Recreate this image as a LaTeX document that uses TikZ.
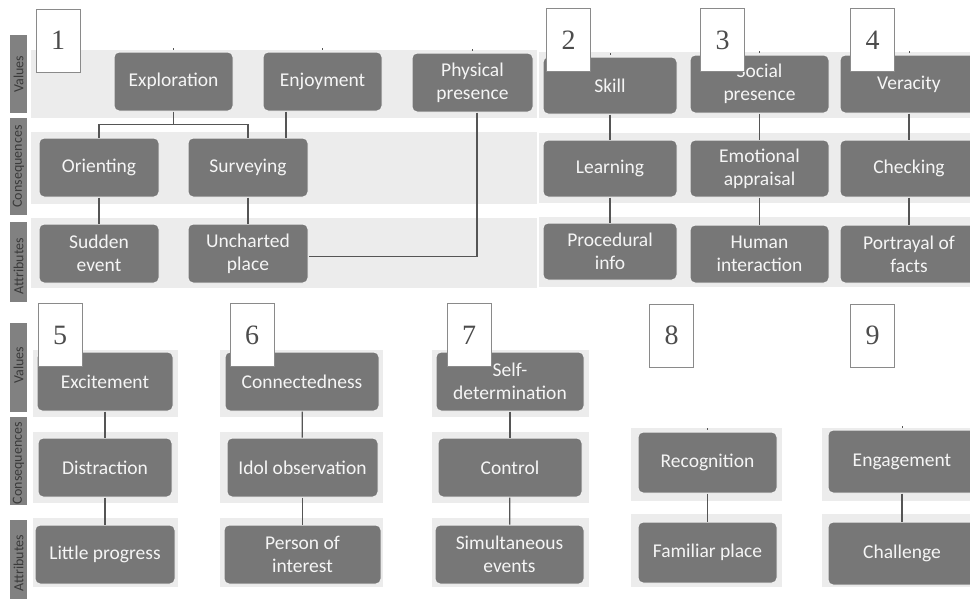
\documentclass[tikz,border=0pt]{standalone}
\usepackage{fontspec}
\setmainfont{Carlito}
\newfontfamily\numfont{Liberation Serif}
\definecolor{nodegray}{HTML}{777777}
\definecolor{bandgray}{HTML}{ECECEC}
\definecolor{bargray}{HTML}{818181}
\definecolor{bartext}{HTML}{3A3A3A}
\definecolor{linegray}{HTML}{555555}
\definecolor{numgray}{HTML}{8A8A8A}
\tikzset{
  nd/.style={rectangle, rounded corners=5pt, fill=nodegray, draw=white!88!gray, line width=1pt,
    text=white!96!black, font=\fontsize{19.5}{23}\selectfont, align=center, inner sep=0pt},
  numbox/.style={rectangle, fill=white, draw=numgray, line width=0.9pt, inner sep=0pt,
    minimum width=44pt, minimum height=63pt, font=\numfont\fontsize{28}{30}\selectfont, text=black!70},
  band/.style={fill=bandgray, draw=none},
  sidebar/.style={fill=bargray, draw=none},
  sidelabel/.style={rotate=90, text=bartext, font=\fontsize{14}{16}\selectfont, inner sep=0pt},
  link/.style={draw=linegray, line width=1.3pt},
  tick/.style={draw=linegray, line width=0.8pt}
}
\begin{document}
\begin{tikzpicture}[x=1pt,y=-1pt]
\useasboundingbox (0,0) rectangle (970,598);
\clip (0,0) rectangle (970,598);
\fill[white] (0,0) rectangle (970,598);
% ---------- bands (top) ----------
\fill[band] (31,50) rectangle (537,118);
\fill[band] (31,132) rectangle (537,204);
\fill[band] (31,218) rectangle (537,288);
\fill[band] (539,52) rectangle (970,118);
\fill[band] (539,133) rectangle (970,203);
\fill[band] (539,217) rectangle (970,287);
% ---------- bands (bottom) ----------
\foreach \xa/\xb in {33/178, 220/383, 432/589} {
  \fill[band] (\xa,350) rectangle (\xb,417);
  \fill[band] (\xa,432) rectangle (\xb,503);
  \fill[band] (\xa,518) rectangle (\xb,587);
}
\foreach \xa/\xb in {631/782, 822/970} {
  \fill[band] (\xa,428) rectangle (\xb,501);
  \fill[band] (\xa,514) rectangle (\xb,587);
}
% ---------- side bars ----------
\fill[sidebar] (10,35) rectangle (27,113);
\fill[sidebar] (10,118) rectangle (27,215);
\fill[sidebar] (10,222) rectangle (27,302);
\fill[sidebar] (10,323) rectangle (27,412);
\fill[sidebar] (10,417) rectangle (27,505);
\fill[sidebar] (10,520) rectangle (27,600);
\node[sidelabel] (lv1) at (18.5,74) {Values};
\node[sidelabel] (lc1) at (18.5,166.5) {Consequences};
\node[sidelabel] (la1) at (18.5,266) {Attributes};
\node[sidelabel] (lv2) at (18.5,365) {Values};
\node[sidelabel] (lc2) at (18.5,463) {Consequences};
\node[sidelabel] (la2) at (18.5,563) {Attributes};
% ---------- nodes (top) ----------
\node[nd, minimum width=119pt, minimum height=59pt] (expl) at (173.5,81.5) {Exploration};
\node[nd, minimum width=119pt, minimum height=59pt] (enjoy) at (322.5,81.5) {Enjoyment};
\node[nd, minimum width=121pt, minimum height=59pt] (phys) at (472.5,82.5) {Physical\\presence};
\node[nd, minimum width=120pt, minimum height=59pt] (orient) at (99,167.5) {Orienting};
\node[nd, minimum width=120pt, minimum height=59pt] (surv) at (248,167.5) {Surveying};
\node[nd, minimum width=120pt, minimum height=59pt] (sudden) at (99,253.5) {Sudden\\event};
\node[nd, minimum width=120pt, minimum height=59pt] (unch) at (248,253.5) {Uncharted\\place};
\node[nd, minimum width=134pt, minimum height=57pt] (skill) at (610,85.5) {Skill};
\node[nd, minimum width=139pt, minimum height=58pt] (social) at (759.5,84) {Social\\presence};
\node[nd, minimum width=138pt, minimum height=58pt] (verac) at (909,84) {Veracity};
\node[nd, minimum width=134pt, minimum height=57pt] (learn) at (610,168.5) {Learning};
\node[nd, minimum width=139pt, minimum height=57pt] (emot) at (759.5,168.5) {Emotional\\appraisal};
\node[nd, minimum width=138pt, minimum height=57pt] (check) at (909,168.5) {Checking};
\node[nd, minimum width=134pt, minimum height=57pt] (proc) at (610,251.5) {Procedural\\info};
\node[nd, minimum width=139pt, minimum height=58pt] (human) at (759.5,254) {Human\\interaction};
\node[nd, minimum width=138pt, minimum height=58pt] (portr) at (909,254) {Portrayal of\\facts};
% ---------- nodes (bottom) ----------
\node[nd, minimum width=136pt, minimum height=59pt] (excit) at (105,381.5) {Excitement};
\node[nd, minimum width=154pt, minimum height=59pt] (connd) at (302,381.5) {Connectedness};
\node[nd, minimum width=148pt, minimum height=59pt] (selfd) at (510,381.5) {Self-\\determination};
\node[nd, minimum width=134pt, minimum height=59pt] (distr) at (105,467.5) {Distraction};
\node[nd, minimum width=151pt, minimum height=59pt] (idol) at (302.5,467.5) {Idol observation};
\node[nd, minimum width=144pt, minimum height=59pt] (control) at (510,467.5) {Control};
\node[nd, minimum width=140pt, minimum height=59pt] (little) at (105,554.5) {Little progress};
\node[nd, minimum width=157pt, minimum height=59pt] (person) at (302.5,554.5) {Person of\\interest};
\node[nd, minimum width=149pt, minimum height=59pt] (simul) at (509.5,554.5) {Simultaneous\\events};
\node[nd, minimum width=139pt, minimum height=61pt] (recog) at (707.5,462.5) {Recognition};
\node[nd, minimum width=139pt, minimum height=61pt] (famil) at (707.5,552.5) {Familiar place};
\node[nd, minimum width=148pt, minimum height=63pt] (engag) at (902,461.5) {Engagement};
\node[nd, minimum width=148pt, minimum height=63pt] (chall) at (902,553.5) {Challenge};
% ---------- connectors ----------
\coordinate (ej) at ([yshift=-13pt]expl.south);
\draw[link] (expl.south) -- (ej);
\draw[link] (ej) -| (orient.north);
\draw[link] (ej) -| (surv.north);
\draw[link] ([xshift=-36.5pt]enjoy.south) -- ([xshift=-36.5pt]enjoy.south |- surv.north);
\coordinate (pc) at ([xshift=4.5pt]phys.south |- 0,256.5);
\draw[link] ([xshift=4.5pt]phys.south) -- (pc) -- (pc -| unch.east);
\draw[link] (orient) -- (sudden);
\draw[link] (surv) -- (unch);
\draw[link] (skill) -- (learn);
\draw[link] (learn) -- (proc);
\draw[link] (social) -- (emot);
\draw[link] (emot) -- (human);
\draw[link] (verac) -- (check);
\draw[link] (check) -- (portr);
\draw[link] (excit) -- (distr);
\draw[link] (distr) -- (little);
\draw[link] (connd) -- (idol);
\draw[link] (idol) -- (person);
\draw[link] (selfd) -- (control);
\draw[link] (control) -- (simul);
\draw[link] (recog) -- (famil);
\draw[link] (engag) -- (chall);
% small tick marks above top nodes
\foreach \p in {expl, enjoy, phys, skill, social, verac, recog, engag} {
  \draw[tick] ([yshift=2pt]\p.north) -- ([yshift=4pt]\p.north);
}
% ---------- number boxes ----------
\node[numbox] (n1) at (58,40.5) {1};
\node[numbox] (n2) at (568.5,40) {2};
\node[numbox] (n3) at (722.5,40) {3};
\node[numbox] (n4) at (872.5,40) {4};
\node[numbox] (n5) at (60,335) {5};
\node[numbox] (n6) at (252,335) {6};
\node[numbox] (n7) at (469,335) {7};
\node[numbox] (n8) at (671.5,335.5) {8};
\node[numbox] (n9) at (872.5,335.5) {9};
\end{tikzpicture}
\end{document}
